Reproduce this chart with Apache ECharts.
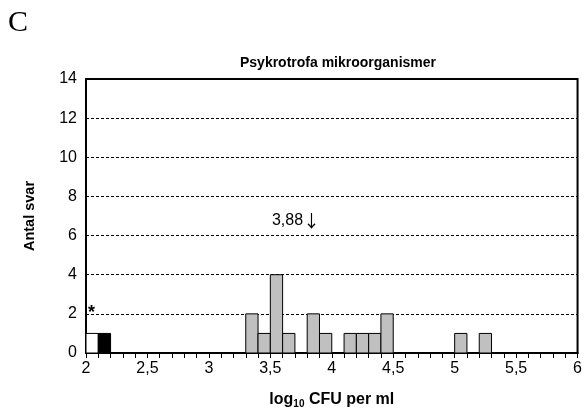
<!DOCTYPE html>
<html><head><meta charset="utf-8">
<script src="https://cdn.jsdelivr.net/npm/echarts@6/dist/echarts.min.js"></script>
<style>html,body{margin:0;padding:0;background:#fff}#c{width:585px;height:414px}</style>
</head><body><div id="c"></div>
<script>
// Bins (lower edge, upper edge) in log10 CFU per ml and counts
const binStart = [2.0, 2.1, 3.3, 3.4, 3.5, 3.6, 3.8, 3.9, 4.1, 4.2, 4.3, 4.4, 5.0, 5.2];
const binEnd   = [2.1, 2.2, 3.4, 3.5, 3.6, 3.7, 3.9, 4.0, 4.2, 4.3, 4.4, 4.5, 5.1, 5.3];
const counts   = [1, 1, 2, 1, 4, 1, 2, 1, 1, 1, 1, 2, 1, 1];
const binKind  = ['white', 'black', 'gray', 'gray', 'gray', 'gray', 'gray', 'gray', 'gray', 'gray', 'gray', 'gray', 'gray', 'gray'];
const medianLabel = '3,88';
const medianX = 3.88;
const medianY = 6.75;
const starX = 2.045;
const starY = 2.05;
const title = 'Psykrotrofa mikroorganismer';
const yName = 'Antal svar';

const FONT = 'Liberation Sans, Arial, sans-serif';
const fills = {white: '#ffffff', black: '#000000', gray: '#c0c0c0'};
const data = binStart.map((s, i) => [s, binEnd[i], counts[i], binKind[i]]);

const chart = echarts.init(document.getElementById('c'), null, {renderer: 'canvas'});
chart.setOption({
  animation: false,
  backgroundColor: '#fff',
  title: {
    text: title, left: 333, top: 51, textAlign: 'center',
    textStyle: {fontFamily: FONT, fontSize: 14, fontWeight: 'bold', color: '#000'}
  },
  graphic: [{
    type: 'text', left: 8, top: 8,
    style: {text: 'C', fontFamily: 'Liberation Serif, Times New Roman, serif', fontSize: 30, fill: '#000'}
  }],
  grid: {left: 86, right: 7, top: 79, bottom: 58, show: true, borderColor: '#000', borderWidth: 2, backgroundColor: 'transparent'},
  xAxis: {
    type: 'value', min: 2, max: 6, interval: 0.1,
    name: '{b|log}{s|10}{b| CFU per ml}', nameLocation: 'middle', nameGap: 37,
    nameTextStyle: {
      rich: {
        b: {fontFamily: FONT, fontSize: 16, fontWeight: 'bold', color: '#000'},
        s: {fontFamily: FONT, fontSize: 10, fontWeight: 'bold', color: '#000', verticalAlign: 'bottom', padding: [9, 0, 0, 0]}
      }
    },
    axisLine: {show: true, onZero: false, lineStyle: {color: '#000', width: 2}},
    axisTick: {show: true, length: 5, lineStyle: {color: '#000', width: 1}},
    axisLabel: {
      fontFamily: FONT, fontSize: 16, color: '#000', margin: 8,
      showMinLabel: true, showMaxLabel: true, hideOverlap: false, interval: 0,
      formatter: v => {
        const r = Math.round(v * 10);
        if (r % 5 !== 0) return '';
        return String(r / 10).replace('.', ',');
      }
    },
    splitLine: {show: false}
  },
  yAxis: {
    type: 'value', min: 0, max: 14, interval: 2,
    name: yName, nameLocation: 'middle', nameGap: 49, nameRotate: 90,
    nameTextStyle: {fontFamily: FONT, fontSize: 14.5, fontWeight: 'bold', color: '#000'},
    axisLine: {show: true, lineStyle: {color: '#000', width: 2}},
    axisTick: {show: false},
    axisLabel: {fontFamily: FONT, fontSize: 16, color: '#000', margin: 9},
    splitLine: {show: true, lineStyle: {color: '#000', width: 1, type: [3, 2]}}
  },
  series: [{
    type: 'custom',
    data: data,
    encode: {x: [0, 1], y: 2},
    renderItem: (params, api) => {
      const p0 = api.coord([api.value(0), api.value(2)]);
      const p1 = api.coord([api.value(1), 0]);
      const kind = data[params.dataIndex][3];
      return {
        type: 'rect',
        shape: {x: p0[0], y: p0[1], width: p1[0] - p0[0], height: p1[1] - p0[1]},
        style: {fill: fills[kind], stroke: '#000', lineWidth: 1}
      };
    }
  }, {
    type: 'scatter',
    symbolSize: 0,
    silent: true,
    itemStyle: {opacity: 1},
    data: [[medianX, medianY]],
    label: {
      show: true, position: 'inside', align: 'right', offset: [3, 0],
      formatter: '{t|' + medianLabel + '}{a|\u2193}',
      color: '#000',
      rich: {
        t: {fontFamily: FONT, fontSize: 16, color: '#000'},
        a: {fontFamily: 'Noto Sans CJK JP, DejaVu Sans, sans-serif', fontSize: 17, color: '#000'}
      }
    }
  }, {
    type: 'scatter',
    symbolSize: 0,
    silent: true,
    itemStyle: {opacity: 1},
    data: [[starX, starY]],
    label: {
      show: true, position: 'inside', formatter: '*',
      fontFamily: FONT, fontSize: 18, fontWeight: 'bold', color: '#000'
    }
  }]
});
</script></body></html>
